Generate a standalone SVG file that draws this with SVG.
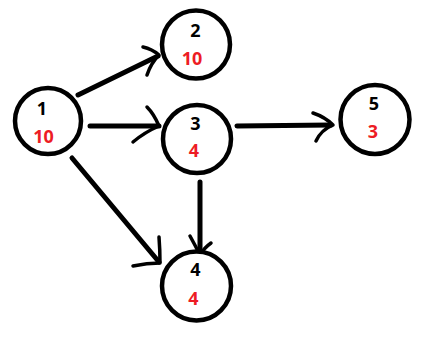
<svg xmlns="http://www.w3.org/2000/svg" width="427" height="347" viewBox="0 0 427 347">
<style>
.node circle{fill:#fff;stroke:#000;stroke-width:4.5}
.id{font-family:"Noto Sans","Liberation Sans",sans-serif;font-size:18px;font-weight:bold;fill:#000;text-anchor:middle}
.val{font-family:"Noto Sans","Liberation Sans",sans-serif;font-size:18px;font-weight:bold;fill:#ed1c24;text-anchor:middle}
.edge{fill:none;stroke:#000;stroke-width:5;stroke-linecap:round}
.barb{fill:none;stroke:#000;stroke-width:3.5;stroke-linecap:round;stroke-linejoin:round}
</style>
<rect width="427" height="347" fill="#fff"/>
<g id="connectors">
<path class="edge" d="M78,95 L158,56"/>
<path class="barb" d="M143,47 Q152,49 159,55 Q151,63 147,75"/>
<path class="edge" d="M90,126 L159,126"/>
<path class="barb" d="M147,107 Q154,114 159,126 Q145,132 133,142"/>
<path class="edge" d="M72,158 L159,262"/>
<path class="barb" d="M159,237 Q160,250 160,263 Q147,263 133,266"/>
<path class="edge" d="M200,182 L200,254"/>
<path class="barb" d="M190,236 Q195,245 200,255 Q204,248 211,243"/>
<path class="edge" d="M237,126 L331,125"/>
<path class="barb" d="M313,113 Q325,117 333,125 Q321,130 316,141"/>
</g>
<g id="node1" class="node"><circle cx="48" cy="121" r="33"/><text class="id" x="42" y="115">1</text><text class="val" x="43.5" y="143">10</text></g>
<g id="node2" class="node"><circle cx="196" cy="44.5" r="34"/><text class="id" x="195.5" y="37">2</text><text class="val" x="192" y="65">10</text></g>
<g id="node3" class="node"><circle cx="197" cy="139" r="34"/><text class="id" x="195.5" y="130">3</text><text class="val" x="194" y="157">4</text></g>
<g id="node5" class="node"><circle cx="375" cy="119.5" r="34.5"/><text class="id" x="374" y="110">5</text><text class="val" x="373" y="138">3</text></g>
<g id="node4" class="node"><circle cx="196.5" cy="286" r="34.5"/><text class="id" x="195.5" y="276">4</text><text class="val" x="193.5" y="305">4</text></g>
</svg>
